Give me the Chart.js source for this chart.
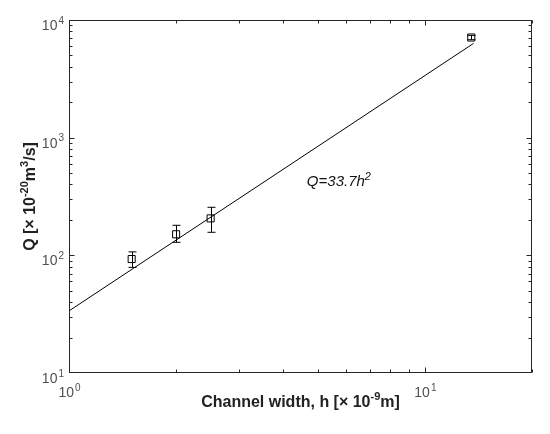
<!DOCTYPE html>
<html>
<head>
<meta charset="utf-8">
<script src="https://cdn.jsdelivr.net/npm/chart.js@4"></script>
<style>
  html, body { margin: 0; padding: 0; background: #fff; }
</style>
</head>
<body>
<canvas id="qChart" width="550" height="434"></canvas>
<script>
// measured points (h in 1e-9 m, Q in 1e-20 m^3/s)
const widths = [1.5, 2.0, 2.5, 13.5];
const flows = [93, 151, 206, 7100];
const errLow = [79, 129, 157, 6800];
const errHigh = [107, 180, 256, 7400];

// fitted line Q = 33.7 h^2, end points
const fitX = [1, 13.7];
const fitY = [33.7, 6325];

const xTicks = [1, 10];
const yTicks = [10, 100, 1000, 10000];

const FONT = "'Liberation Sans', Arial, Helvetica, sans-serif";

function drawPow(ctx, base, exp, x, y, size, align) {
  ctx.font = size + "px " + FONT;
  const bw = ctx.measureText(base).width;
  ctx.font = Math.round(size * 0.72) + "px " + FONT;
  const ew = ctx.measureText(exp).width;
  let left = x;
  if (align == "right") left = x - bw - ew;
  if (align == "center") left = x - (bw + ew) / 2;
  ctx.textBaseline = "alphabetic";
  ctx.textAlign = "left";
  ctx.font = size + "px " + FONT;
  ctx.fillText(base, left, y);
  ctx.font = Math.round(size * 0.72) + "px " + FONT;
  ctx.fillText(exp, left + bw + 1, y - size * 0.45);
}

// pieces of [text, superscript?]
function runWidth(ctx, parts, size, style) {
  let total = 0;
  for (const [t, sup] of parts) {
    ctx.font = style + (sup ? Math.round(size * 0.7) : size) + "px " + FONT;
    total += ctx.measureText(t).width;
  }
  return total;
}
function drawRun(ctx, parts, x, y, size, style) {
  let cx = x;
  ctx.textAlign = "left";
  ctx.textBaseline = "alphabetic";
  for (const [t, sup] of parts) {
    ctx.font = style + (sup ? Math.round(size * 0.7) : size) + "px " + FONT;
    ctx.fillText(t, cx, sup ? y - size * 0.45 : y);
    cx += ctx.measureText(t).width;
  }
}

const matlabAxes = {
  id: "matlabAxes",
  beforeDatasetsDraw(chart) {
    const ctx = chart.ctx;
    const xs = chart.scales.x, ys = chart.scales.y;
    ctx.save();
    ctx.strokeStyle = "#000";
    ctx.lineWidth = 1;
    for (let i = 0; i < widths.length; i++) {
      const px = Math.round(xs.getPixelForValue(widths[i])) + 0.5;
      const top = ys.getPixelForValue(errHigh[i]);
      const bot = ys.getPixelForValue(errLow[i]);
      ctx.beginPath();
      ctx.moveTo(px, top); ctx.lineTo(px, bot);
      ctx.moveTo(px - 4, top); ctx.lineTo(px + 4, top);
      ctx.moveTo(px - 4, bot); ctx.lineTo(px + 4, bot);
      ctx.stroke();
    }
    ctx.restore();
  },
  afterDraw(chart) {
    const ctx = chart.ctx;
    const a = chart.chartArea;
    const xs = chart.scales.x, ys = chart.scales.y;
    ctx.save();
    ctx.strokeStyle = "#262626";
    ctx.lineWidth = 1;
    const L = Math.round(a.left) + 0.5, R = Math.round(a.right) - 0.5;
    const T = Math.round(a.top) + 0.5, B = Math.round(a.bottom) - 0.5;
    ctx.strokeRect(L, T, R - L, B - T);

    ctx.beginPath();
    // x ticks, inside, bottom and top
    for (let d = 1; d <= 10; d *= 10) {
      for (let m = 1; m <= 9; m++) {
        const v = d * m;
        if (v > xs.max || v <= xs.min) continue;
        const px = Math.round(xs.getPixelForValue(v)) + 0.5;
        const len = m == 1 ? 5 : 3;
        ctx.moveTo(px, B); ctx.lineTo(px, B - len);
        ctx.moveTo(px, T); ctx.lineTo(px, T + len);
      }
    }
    // y ticks, inside, left and right
    for (let d = 10; d <= 10000; d *= 10) {
      for (let m = 1; m <= 9; m++) {
        const v = d * m;
        if (v >= ys.max || v <= ys.min) continue;
        const py = Math.round(ys.getPixelForValue(v)) + 0.5;
        const len = m == 1 ? 5 : 3;
        ctx.moveTo(L, py); ctx.lineTo(L + len, py);
        ctx.moveTo(R, py); ctx.lineTo(R - len, py);
      }
    }
    ctx.stroke();

    // tick labels
    ctx.fillStyle = "#505050";
    for (const v of yTicks) {
      const py = ys.getPixelForValue(v);
      drawPow(ctx, "10", String(Math.round(Math.log10(v))), a.left - 6, py + 10, 14, "right");
    }
    for (const v of xTicks) {
      const px = xs.getPixelForValue(v);
      drawPow(ctx, "10", String(Math.round(Math.log10(v))), px, a.bottom + 24, 14, "center");
    }

    // axis titles
    ctx.fillStyle = "#222";
    const xt = [["Channel width, h [\u00d7 10", false], ["-9", true], ["m]", false]];
    const xw = runWidth(ctx, xt, 16, "bold ");
    drawRun(ctx, xt, (a.left + a.right) / 2 - xw / 2, a.bottom + 34, 16, "bold ");

    const yt = [["Q [\u00d7 10", false], ["-20", true], ["m", false], ["3", true], ["/s]", false]];
    const yw = runWidth(ctx, yt, 16, "bold ");
    ctx.save();
    ctx.translate(35, (a.top + a.bottom) / 2);
    ctx.rotate(-Math.PI / 2);
    drawRun(ctx, yt, -yw / 2, 0, 16, "bold ");
    ctx.restore();

    // fit annotation
    ctx.fillStyle = "#111";
    const an = [["Q=33.7h", false], ["2", true]];
    drawRun(ctx, an, xs.getPixelForValue(4.66), ys.getPixelForValue(386), 15, "italic ");
    ctx.restore();
  }
};

const ctx = document.getElementById("qChart").getContext("2d");
const chart = new Chart(ctx, {
  type: "scatter",
  data: {
    datasets: [
      {
        label: "fit",
        data: fitX.map((x, i) => ({ x: x, y: fitY[i] })),
        showLine: true,
        borderColor: "#000",
        borderWidth: 1,
        pointRadius: 0,
        fill: false
      },
      {
        label: "measured",
        data: widths.map((x, i) => ({ x: x, y: flows[i] })),
        showLine: false,
        pointStyle: "rect",
        pointRadius: 5,
        borderColor: "#000",
        borderWidth: 1,
        backgroundColor: "rgba(255,255,255,0)"
      }
    ]
  },
  options: {
    responsive: false,
    animation: false,
    layout: { padding: { top: 20, right: 18, left: 0, bottom: 0 } },
    plugins: { legend: { display: false }, tooltip: { enabled: false } },
    scales: {
      x: {
        type: "logarithmic",
        min: 1,
        max: 20,
        ticks: { display: false },
        grid: { display: false, drawTicks: false },
        border: { display: false },
        afterFit(scale) { scale.height = 61; }
      },
      y: {
        type: "logarithmic",
        min: 10,
        max: 10000,
        ticks: { display: false },
        grid: { display: false, drawTicks: false },
        border: { display: false },
        afterFit(scale) { scale.width = 69; }
      }
    }
  },
  plugins: [matlabAxes]
});
</script>
</body>
</html>
